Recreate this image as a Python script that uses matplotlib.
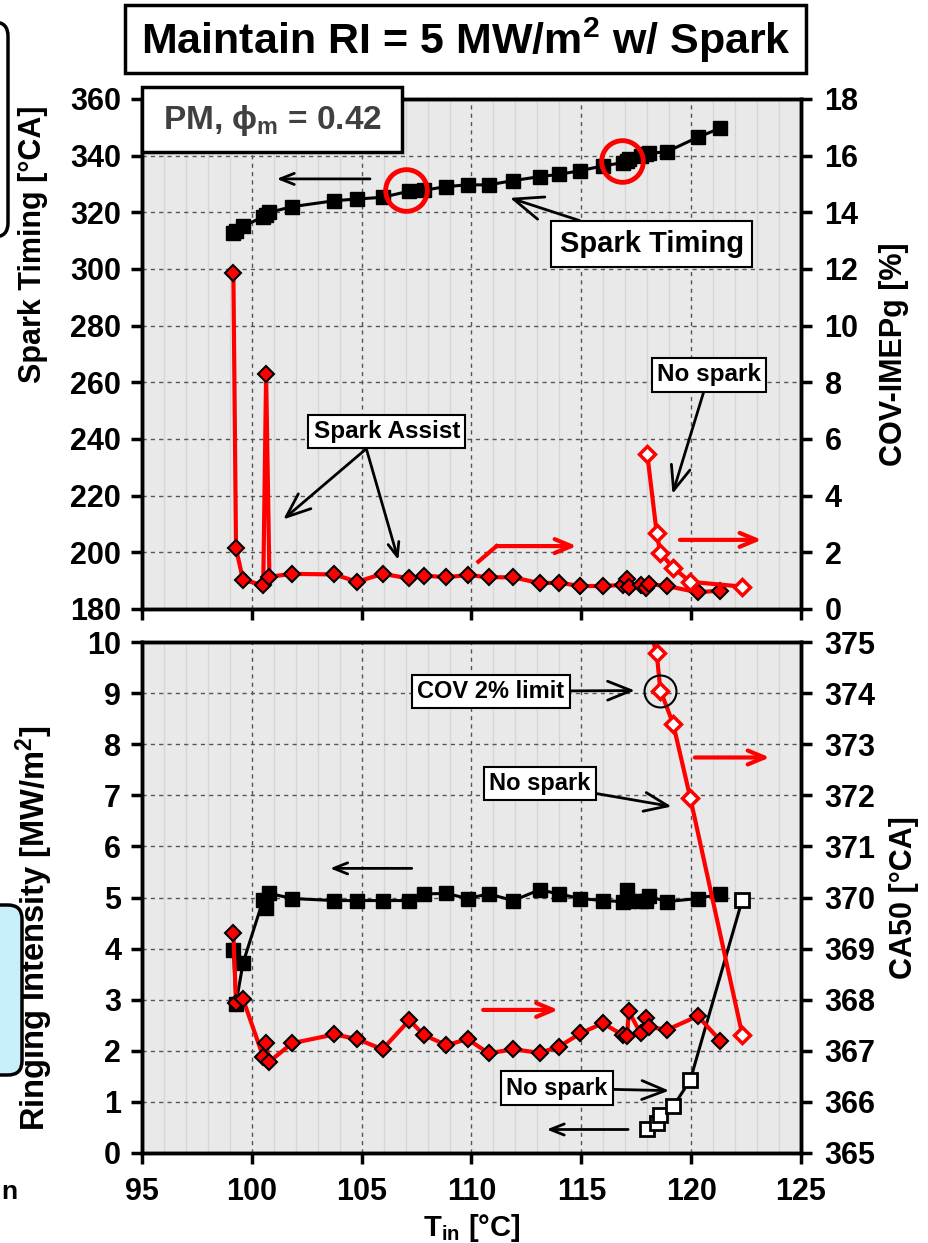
import matplotlib
matplotlib.use('Agg')
import matplotlib.pyplot as plt
from matplotlib.patches import Rectangle, FancyBboxPatch
from matplotlib.ticker import MultipleLocator
from matplotlib.transforms import IdentityTransform

plt.rcParams['font.family'] = ['Liberation Sans', 'DejaVu Sans']
plt.rcParams['font.weight'] = 'bold'
plt.rcParams['axes.labelweight'] = 'bold'
plt.rcParams['mathtext.fontset'] = 'custom'
plt.rcParams['mathtext.rm'] = 'Liberation Sans:bold'
plt.rcParams['mathtext.it'] = 'Liberation Sans:bold'
plt.rcParams['mathtext.bf'] = 'Liberation Sans:bold'

# spark assisted operating points
t_in = [99.16, 99.28, 99.6, 100.52, 100.65, 100.8, 101.84, 103.76, 104.79, 105.95,
        107.17, 107.83, 108.86, 109.82, 110.78, 111.9, 113.1, 113.98, 114.95, 115.98,
        116.88, 117.08, 117.16, 117.7, 117.95, 118.08, 118.9, 120.3, 121.33]
spark_timing = [312.6, 313.5, 315.0, 318.5, 319.0, 320.0, 322.0, 324.1, 324.7, 325.3,
                327.5, 327.8, 329.1, 329.7, 329.7, 331.2, 332.6, 333.4, 334.7, 336.4,
                337.5, 338.2, 338.8, 339.8, 340.5, 340.8, 341.4, 346.5, 349.7]
cov_imepg = [11.85, 2.14, 1.02, 0.85, 8.28, 1.14, 1.24, 1.22, 0.96, 1.24,
             1.08, 1.18, 1.12, 1.20, 1.12, 1.12, 0.91, 0.93, 0.81, 0.81,
             0.85, 1.05, 0.77, 0.85, 0.73, 0.88, 0.81, 0.59, 0.65]
ringing = [3.97, 2.92, 3.72, 4.96, 4.79, 5.08, 4.98, 4.94, 4.94, 4.94,
           4.94, 5.07, 5.08, 4.98, 5.07, 4.94, 5.15, 5.07, 4.98, 4.94,
           4.92, 5.15, 4.94, 4.94, 4.94, 5.02, 4.92, 4.98, 5.07]
ca50 = [369.30, 367.94, 368.01, 366.88, 367.15, 366.79, 367.15, 367.32, 367.23, 367.03,
        367.60, 367.31, 367.11, 367.23, 366.95, 367.03, 366.96, 367.08, 367.34, 367.54,
        367.31, 367.28, 367.77, 367.34, 367.64, 367.47, 367.41, 367.68, 367.20]

# no spark points
t_ns = [118.0, 118.43, 118.6, 119.18, 119.96, 122.33]
cov_ns = [5.47, 2.69, 1.97, 1.46, 0.96, 0.79]
ringing_ns = [0.46, 0.58, 0.74, 0.91, 1.43, 4.96]
ca50_ns = [375.4, 374.78, 374.05, 373.40, 371.95, 367.31]

W, H = 929, 1243
fig = plt.figure(figsize=(W / 100, H / 100), dpi=100)


def px_rect(x0, y0, x1, y1):
    return [x0 / W, 1 - y1 / H, (x1 - x0) / W, (y1 - y0) / H]


def style(ax, ylim, step):
    ax.set_facecolor('#e9e9e9')
    ax.set_xlim(95, 125)
    ax.set_ylim(*ylim)
    ax.xaxis.set_major_locator(MultipleLocator(5))
    ax.xaxis.set_minor_locator(MultipleLocator(1))
    ax.yaxis.set_major_locator(MultipleLocator(step))
    ax.grid(which='minor', axis='x', color='#d6d6d6', lw=1, ls='-')
    ax.grid(which='major', color='#555555', lw=1, ls=(0, (3, 3)))
    ax.set_axisbelow(True)
    for s in ax.spines.values():
        s.set_linewidth(2.5)
    ax.tick_params(which='major', direction='out', length=8, width=2.5, labelsize=22)
    ax.tick_params(axis='y', pad=7)
    ax.tick_params(axis='x', pad=9)
    ax.tick_params(which='minor', length=0)


def twin(ax, ylim, step):
    a = ax.twinx()
    a.set_ylim(*ylim)
    a.yaxis.set_major_locator(MultipleLocator(step))
    for s in a.spines.values():
        s.set_linewidth(2.5)
    a.tick_params(axis='y', direction='out', length=8, width=2.5, labelsize=22, pad=9)
    return a


box = dict(boxstyle='square,pad=0.22', fc='white', ec='k', lw=1.5)
karrow = dict(arrowstyle='->,head_length=1.0,head_width=0.4', color='k', lw=2,
              shrinkA=0, shrinkB=0)
rarrow = dict(arrowstyle='->,head_length=1.2,head_width=0.5', color='red', lw=3,
              shrinkA=0, shrinkB=0)

# ---------- top panel ----------
ax1 = fig.add_axes(px_rect(142, 99, 801, 609))
style(ax1, (180, 360), 20)
ax1.tick_params(axis='x', labelbottom=False)
ax1.plot(t_in, spark_timing, '-s', color='k', lw=2.2, ms=10, zorder=3)
ax1.plot([107.0, 116.83], [327.9, 338.1], 'o', ms=30, mfc='none', mec='red', mew=3.5, zorder=4)
ax1.set_ylabel('Spark Timing [°CA]', fontsize=22)
ax1.yaxis.set_label_coords(-0.142, 0.716)

ax2 = twin(ax1, (0, 18), 2)
ax2.plot(t_in, cov_imepg, '-D', color='red', lw=3, ms=8, mfc='red', mec='k', mew=1.5)
ax2.plot(t_ns, cov_ns, '-D', color='red', lw=3, ms=8, mfc='white', mec='red', mew=2.5)
ax2.set_ylabel('COV-IMEPg [%]', fontsize=22, rotation=90)
ax2.yaxis.set_label_coords(1.118, 0.5)

ax2.annotate('', xy=(101.13, 331.8), xytext=(105.38, 331.8),
             xycoords=ax1.transData, textcoords=ax1.transData, arrowprops=karrow)
ax2.annotate('Spark Timing', xy=(111.75, 325.1), xytext=(118.2, 308.8),
             xycoords=ax1.transData, textcoords=ax1.transData, fontsize=21,
             ha='center', va='center', bbox=dict(box, boxstyle='square,pad=0.3'),
             arrowprops=karrow)
ax2.annotate('Spark Assist', xy=(101.43, 3.16), xytext=(106.14, 6.27), fontsize=17.5,
             ha='center', va='center', bbox=box, arrowprops=karrow)
ax2.annotate('', xy=(106.67, 1.73), xytext=(105.23, 5.61), arrowprops=karrow)
ax2.annotate('No spark', xy=(119.15, 4.06), xytext=(120.81, 8.27), fontsize=17.5,
             ha='center', va='center', bbox=box, arrowprops=karrow)
ax2.plot([110.31, 111.14], [1.67, 2.22], color='red', lw=3)
ax2.annotate('', xy=(114.79, 2.22), xytext=(111.14, 2.22), arrowprops=rarrow)
ax2.annotate('', xy=(123.21, 2.44), xytext=(119.49, 2.44), arrowprops=rarrow)

# ---------- bottom panel ----------
ax3 = fig.add_axes(px_rect(142, 642, 801, 1153))
style(ax3, (0, 10), 1)
ax3.plot(t_in, ringing, '-s', color='k', lw=2.2, ms=10, zorder=3)
ax3.plot(t_ns, ringing_ns, '-s', color='k', lw=2.2, ms=10, mfc='white', mec='k', mew=2, zorder=3)
ax3.set_ylabel('Ringing Intensity [MW/m$^{2}$]', fontsize=23.5)
ax3.yaxis.set_label_coords(-0.132, 0.44)
ax3.set_xlabel('T$_{in}$ [°C]', fontsize=21, labelpad=4)

ax4 = twin(ax3, (365, 375), 1)
ax4.plot(t_in, ca50, '-D', color='red', lw=3, ms=8, mfc='red', mec='k', mew=1.5)
ax4.plot(t_ns, ca50_ns, '-D', color='red', lw=3, ms=8, mfc='white', mec='red', mew=2.5)
ax4.plot([118.6], [374.05], 'o', ms=23, mfc='none', mec='k', mew=1.5)
ax4.set_ylabel('CA50 [°CA]', fontsize=22, rotation=90)
ax4.yaxis.set_label_coords(1.133, 0.5)

ax4.annotate('COV 2% limit', xy=(117.44, 9.05), xytext=(110.88, 9.035),
             xycoords=ax3.transData, textcoords=ax3.transData, fontsize=17,
             ha='center', va='center', bbox=box, arrowprops=karrow)
ax4.annotate('No spark', xy=(119.11, 6.78), xytext=(113.11, 7.225),
             xycoords=ax3.transData, textcoords=ax3.transData, fontsize=17,
             ha='center', va='center', bbox=box, arrowprops=karrow)
ax4.annotate('No spark', xy=(119.0, 1.22), xytext=(113.89, 1.27),
             xycoords=ax3.transData, textcoords=ax3.transData, fontsize=17,
             ha='center', va='center', bbox=box, arrowprops=karrow)
ax4.annotate('', xy=(103.56, 5.57), xytext=(107.28, 5.57),
             xycoords=ax3.transData, textcoords=ax3.transData, arrowprops=karrow)
ax4.annotate('', xy=(113.42, 0.46), xytext=(117.13, 0.46),
             xycoords=ax3.transData, textcoords=ax3.transData, arrowprops=karrow)
ax4.annotate('', xy=(113.95, 367.8), xytext=(110.53, 367.8), arrowprops=rarrow)
ax4.annotate('', xy=(123.58, 372.74), xytext=(120.17, 372.74), arrowprops=rarrow)

# ---------- boxes on the figure ----------
fig.add_artist(Rectangle((125 / W, 1 - 73 / H), 681 / W, 68 / H, transform=fig.transFigure,
                         fc='white', ec='k', lw=2.5, zorder=5))
fig.text(465.5 / W, 1 - 40 / H, r'Maintain RI = 5 MW/m$^{2}$ w/ Spark', fontsize=31,
         ha='center', va='center', zorder=6)
fig.add_artist(Rectangle((142 / W, 1 - 152 / H), 260 / W, 65 / H, transform=fig.transFigure,
                         fc='white', ec='k', lw=2.5, zorder=5))
fig.text(272 / W, 1 - 121 / H, r'PM, $\phi_{m}$ = 0.42', fontsize=24, color='#404040',
         ha='center', va='center', zorder=6)

# pieces of neighbouring objects cut by the left edge
fig.add_artist(FancyBboxPatch((-100, H - 237), 108, 215, boxstyle='round,pad=0,rounding_size=14',
                              transform=IdentityTransform(), fc='white', ec='k', lw=2.5))
fig.add_artist(FancyBboxPatch((-100, H - 1075), 122, 170, boxstyle='round,pad=0,rounding_size=14',
                              transform=IdentityTransform(), fc='#c9eefc', ec='k', lw=2.5))
fig.text(1 / W, 1 - 1192 / H, 'n', fontsize=19, ha='left', va='center')

fig.savefig('out.png', dpi=100)
